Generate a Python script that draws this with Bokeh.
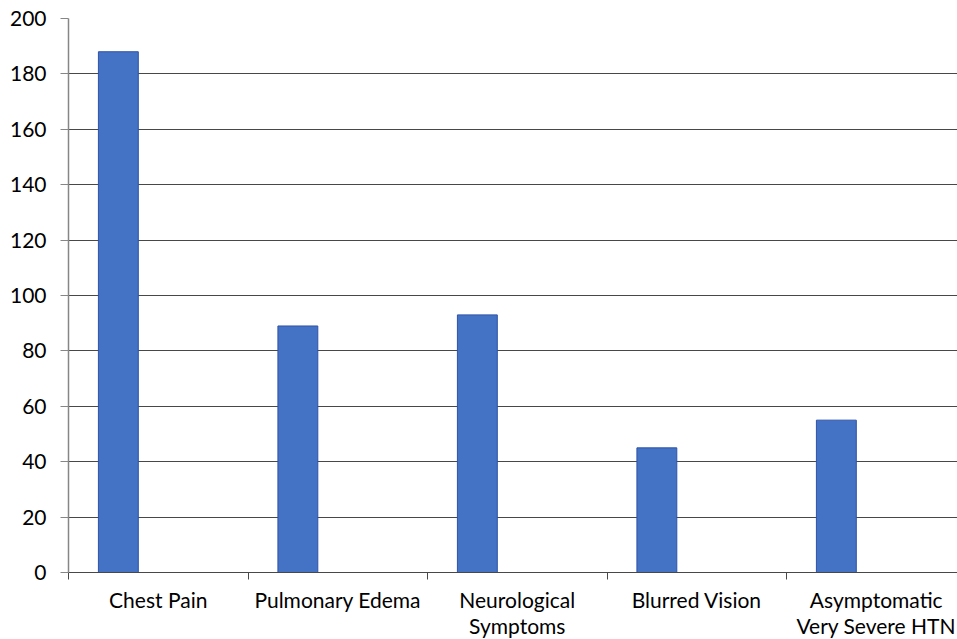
from bokeh.plotting import figure
from bokeh.models import FixedTicker, Range1d, ColumnDataSource
from bokeh.embed import file_html
from bokeh.resources import INLINE

categories = ["Chest Pain", "Pulmonary Edema", "Neurological\nSymptoms",
              "Blurred Vision", "Asymptomatic\nVery Severe HTN"]
values = [188, 89, 93, 45, 55]
y_ticks = [0, 20, 40, 60, 80, 100, 120, 140, 160, 180, 200]

# Excel-like clustered layout: 3 series slots, gap width 150%
n_series = 3
gap = 1.5
bar_w = 1.0 / (n_series + gap)
offset = gap * bar_w / 2 + bar_w / 2

xs = [i + offset for i in range(len(categories))]
label_pos = [i + 0.5 for i in range(len(categories))]

FONT = "Lato"
x_end = (957 - 68) / 179.5

p = figure(width=957, height=639, frame_width=889, frame_height=554,
           x_range=Range1d(0, x_end), y_range=Range1d(0, 200),
           output_backend="svg", toolbar_location=None,
           min_border_left=68, min_border_top=18, min_border_right=0, min_border_bottom=0)

src = ColumnDataSource(dict(x=xs, top=values))
p.vbar(x="x", top="top", width=bar_w, source=src,
       fill_color="#4472C4", line_color="#2f52a8", line_width=1)

p.outline_line_color = None
p.xgrid.grid_line_color = None
p.ygrid.grid_line_color = "#484848"
p.ygrid.grid_line_width = 1
p.ygrid.ticker = FixedTicker(ticks=y_ticks)

ya = p.yaxis[0]
ya.ticker = FixedTicker(ticks=y_ticks)
ya.axis_line_color = "#868686"
ya.axis_line_width = 1.5
ya.major_tick_line_color = "#868686"
ya.major_tick_out = 8
ya.major_tick_in = 0
ya.minor_tick_line_color = None
ya.major_label_text_font = FONT
ya.major_label_text_font_size = "21px"
ya.major_label_text_color = "#000000"
ya.major_label_standoff = 14

xa = p.xaxis[0]
xa.ticker = FixedTicker(ticks=label_pos, minor_ticks=list(range(len(categories) + 1)))
xa.major_label_overrides = {lp: c for lp, c in zip(label_pos, categories)}
xa.axis_line_color = "#484848"
xa.axis_line_width = 1.2
xa.major_tick_line_color = None
xa.major_tick_out = 0
xa.major_tick_in = 0
xa.minor_tick_line_color = "#484848"
xa.minor_tick_out = 7
xa.minor_tick_in = 0
xa.major_label_text_font = FONT
xa.major_label_text_font_size = "21px"
xa.major_label_text_color = "#000000"
xa.major_label_standoff = 7
xa.major_label_text_line_height = 1.05

open("out.html", "w").write(file_html(p, INLINE))
